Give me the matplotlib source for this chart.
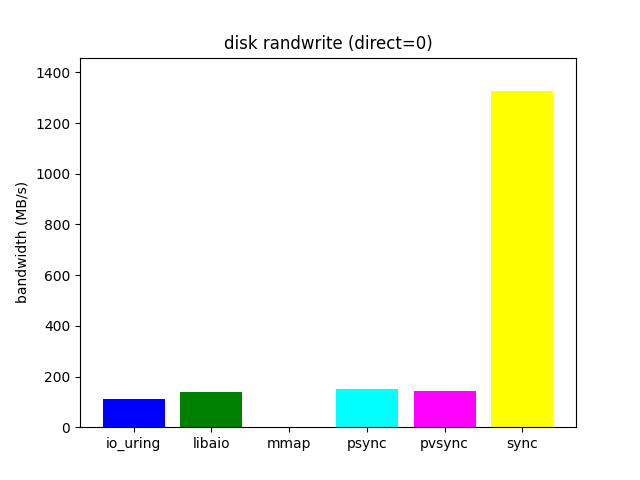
import matplotlib
matplotlib.use("Agg")
import matplotlib.pyplot as plt

engines = ["io_uring", "libaio", "mmap", "psync", "pvsync", "sync"]
bandwidth = [111, 138, 0, 150, 142, 1326]
colors = ["blue", "green", "red", "cyan", "magenta", "yellow"]

fig, ax = plt.subplots(figsize=(6.4, 4.8), dpi=100)
ax.bar(engines, bandwidth, color=colors)
ax.set_ylim(0, 1458)
ax.set_ylabel("bandwidth (MB/s)")
ax.set_title("disk randwrite (direct=0)")
fig.savefig("out.png")
